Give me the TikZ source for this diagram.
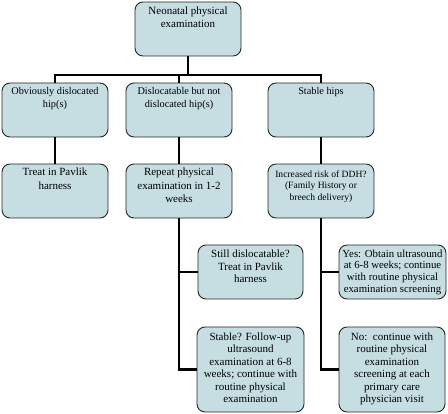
\documentclass[tikz,border=0pt]{standalone}
\usepackage{fontspec}
\setmainfont{Liberation Serif}
\definecolor{boxfill}{HTML}{C6DEE2}
% #1 width, #2 height, #3 font size, #4 baselineskip, #5 first baseline, #6 text
\newcommand{\bxt}[6]{\parbox[c][#2pt][t]{#1pt}{\centering\fontsize{#3}{#4}\selectfont\rule{0pt}{#5pt}#6\par}}
\tikzset{
  fbox/.style={draw=black!85, line width=0.9pt, fill=boxfill, rounded corners=8pt, inner sep=0pt},
  conn/.style={line width=2.2pt, black}
}
\begin{document}
\begin{tikzpicture}[x=1pt,y=-1pt]
\useasboundingbox (0,0) rectangle (448,414);
\node[fbox] (top) at (188,29) {\bxt{106}{54}{11}{12.7}{12.5}{Neonatal physical\\examination}};
\node[fbox] (a1) at (55,110) {\bxt{106}{54}{10.3}{12.3}{12}{Obviously dislocated\\hip(s)}};
\node[fbox] (b1) at (179,110) {\bxt{106}{54}{10.3}{12.3}{12}{Dislocatable but not\\dislocated hip(s)}};
\node[fbox] (c1) at (321,110) {\bxt{106}{54}{10.3}{12.3}{12}{Stable hips}};
\node[fbox] (a2) at (55,191) {\bxt{106}{54}{11}{13.3}{12}{Treat in Pavlik\\harness}};
\node[fbox] (b2) at (179,191) {\bxt{106}{54}{11}{13.3}{12}{Repeat physical\\examination in 1-2\\weeks}};
\node[fbox] (c2) at (321,191) {\bxt{106}{54}{9.6}{11.5}{13.2}{Increased risk of DDH?\\(Family History or\\breech delivery)}};
\node[fbox] (s3) at (250.5,272) {\bxt{105}{54}{11}{12.7}{12.5}{Still dislocatable?\\Treat in Pavlik\\harness}};
\node[fbox] (y3) at (392.5,272) {\bxt{107}{54}{10.8}{11.7}{12.3}{Yes: Obtain ultrasound\\at 6-8 weeks; continue\\with routine physical\\examination screening}};
\node[fbox] (s4) at (250.5,369.5) {\bxt{107}{85}{11}{12.5}{13.5}{Stable? Follow-up\\ultrasound\\examination at 6-8\\weeks; continue with\\routine physical\\examination}};
\node[fbox] (n4) at (392,369.5) {\bxt{106}{85}{11}{12.5}{13.5}{No:\ \ continue with\\routine physical\\examination\\screening at each\\primary care\\physician visit}};
\coordinate (j) at (188,75);
\draw[conn] (top.south) -- (top.south |- j);
\draw[conn] (a1.north) |- (c1.north |- j) -- (c1.north);
\draw[conn] (b1.north) -- (b1.north |- j);
\draw[conn] (a1) -- (a2);
\draw[conn] (b1) -- (b2);
\draw[conn] (c1) -- (c2);
\draw[conn] (b2.south) |- (s4.west);
\draw[conn] (b2.south |- s3.west) -- (s3.west);
\draw[conn] (c2.south) |- (n4.west);
\draw[conn] (c2.south |- y3.west) -- (y3.west);
\end{tikzpicture}
\end{document}
